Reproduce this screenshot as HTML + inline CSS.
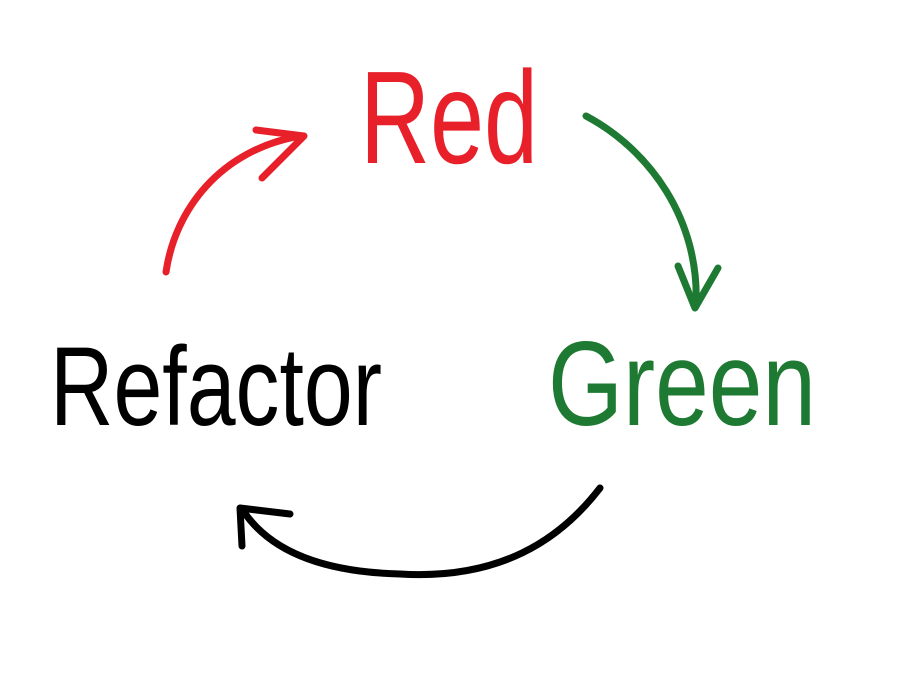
<!DOCTYPE html>
<html>
<head>
<meta charset="utf-8">
<style>
html,body{margin:0;padding:0;background:#fff;}
svg{display:block;}
text{font-family:"Liberation Sans",sans-serif;}
</style>
</head>
<body>
<svg width="903" height="676" viewBox="0 0 903 676" xmlns="http://www.w3.org/2000/svg">
<rect width="903" height="676" fill="#fff"/>
<text x="360" y="163" font-size="132" fill="#e8202a" textLength="178" lengthAdjust="spacingAndGlyphs">Red</text>
<text x="548" y="425" font-size="120" fill="#1e7a32" textLength="268" lengthAdjust="spacingAndGlyphs">Green</text>
<text x="50" y="425" font-size="112" fill="#000" textLength="332" lengthAdjust="spacingAndGlyphs">Refactor</text>
<g fill="none" stroke-width="7" stroke-linecap="round" stroke-linejoin="round">
<path d="M166 272 C175 210 220 150 300 136" stroke="#e8202a"/>
<path d="M256 130 L304 136 L262 178" stroke="#e8202a"/>
<path d="M586 116 C650 150 700 220 696 306" stroke="#1e7a32"/>
<path d="M678 266 L695 308 L718 268" stroke="#1e7a32"/>
<path d="M600 488 C560 540 500 580 400 574 C320 572 270 550 244 512" stroke="#000"/>
<path d="M242 546 L240 508 L290 514" stroke="#000"/>
</g>
</svg>
</body>
</html>
